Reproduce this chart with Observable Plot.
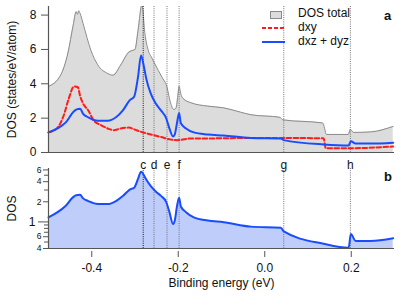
<!DOCTYPE html>
<html>
<head>
<meta charset="utf-8">
<script src="https://cdn.jsdelivr.net/npm/d3@7"></script>
<script src="https://cdn.jsdelivr.net/npm/@observablehq/plot@0.6"></script>
<style>
  body { margin: 0; background: #fff; }
  #wrap { position: relative; width: 407px; height: 296px; font-family: "Liberation Sans", Arial, sans-serif; color: #111; }
  #wrap svg.plot { position: absolute; left: 0; overflow: visible; }
  .lab { position: absolute; font-size: 11px; line-height: 1; white-space: nowrap; }
</style>
</head>
<body>
<div id="wrap"></div>
<script>
// ---- data ----
const totalE = [-0.50,-0.472,-0.455,-0.443,-0.436,-0.433,-0.430,-0.427,-0.420,-0.402,-0.386,-0.363,-0.351,-0.333,-0.314,-0.305,-0.300,-0.293,-0.284,-0.277,-0.270,-0.261,-0.254,-0.238,-0.226,-0.219,-0.210,-0.205,-0.201,-0.198,-0.194,-0.189,-0.171,-0.132,-0.095,-0.056,-0.032,0.035,0.042,0.134,0.143,0.193,0.198,0.205,0.245,0.297];
const totalV = [3.85,4.5,5.8,7.4,8.2,8.05,8.25,8.1,7.5,5.95,5.1,4.6,4.5,5.1,5.85,5.95,6.0,7.1,8.6,6.9,6.0,5.5,5.15,4.4,3.8,3.0,2.5,2.6,3.3,3.85,3.4,3.15,2.9,2.7,2.6,2.35,2.2,2.05,1.9,1.72,1.05,1.05,1.35,1.17,1.2,1.52];

const dxyE = [-0.50,-0.479,-0.465,-0.453,-0.441,-0.432,-0.427,-0.420,-0.408,-0.395,-0.379,-0.363,-0.349,-0.333,-0.314,-0.302,-0.286,-0.263,-0.240,-0.217,-0.201,-0.171,-0.132,-0.032,0.136,0.141,0.200,0.297];
const dxyV = [1.17,1.45,2.15,3.15,3.85,3.8,3.3,2.85,2.45,1.85,1.6,1.4,1.3,1.4,1.45,1.35,1.2,1.05,0.9,0.75,0.72,0.82,0.82,0.85,0.83,0.25,0.25,0.35];

const dxzE = [-0.50,-0.479,-0.460,-0.443,-0.436,-0.427,-0.420,-0.408,-0.386,-0.363,-0.344,-0.328,-0.312,-0.302,-0.293,-0.286,-0.279,-0.274,-0.263,-0.252,-0.240,-0.228,-0.221,-0.212,-0.208,-0.203,-0.198,-0.194,-0.182,-0.164,-0.132,-0.095,-0.032,0.037,0.044,0.136,0.194,0.199,0.210,0.245,0.297];
const dxzV = [1.17,1.4,1.75,2.35,2.5,2.55,2.25,2.05,1.85,1.85,2.05,2.45,3.05,3.25,4.4,5.65,4.95,4.3,3.4,2.85,2.45,2.0,1.45,0.93,1.05,1.7,2.3,1.7,1.4,1.17,1.05,0.99,0.85,0.82,0.72,0.47,0.41,0.66,0.52,0.52,0.57];

const markerE = [-0.281,-0.256,-0.226,-0.198,0.044,0.198];
const markerLabels = ["c","d","e","f","g","h"];

const xTicks = [-0.4,-0.2,0.0,0.2];
const yTopTicks = [0,2,4,6,8];
const yLogLabeled = [0.4,0.6,2,4,6];
const yLogMajor = [1];
const yLogMinor = [0.5,0.7,0.8,0.9,3,5];

const seriesNames = ["DOS total","dxy","dxz + dyz"];

// ---- tables ----
const total = totalE.map((e,i)=>({e, v: totalV[i]}));
const dxy = dxyE.map((e,i)=>({e, v: dxyV[i]}));
const dxz = dxzE.map((e,i)=>({e, v: dxzV[i]}));
const markers = markerE.map((e,i)=>({e, label: markerLabels[i]}));

const RED = "#ff1c1c", BLUE = "#1a4cff", AXIS = "#555";
const CURVE = "monotone-x";
const wrap = document.getElementById("wrap");

// ---- top panel ----
const p1 = Plot.plot({
  width: 407, height: 160,
  marginLeft: 48, marginRight: 13, marginTop: 6, marginBottom: 8,
  style: {fontFamily: "Liberation Sans, Arial, sans-serif", fontSize: "11px", color: "#111", background: "transparent"},
  x: {domain: [-0.5, 0.3]},
  y: {domain: [0, 8.5]},
  marks: [
    Plot.areaY(total, {x: "e", y: "v", fill: "#dcdcdc", curve: CURVE, clip: true}),
    Plot.lineY(total, {x: "e", y: "v", stroke: "#8a8a8a", strokeWidth: 1, curve: CURVE, clip: true}),
    Plot.ruleX(markers, {x: "e", stroke: d => d.label === "c" ? "#000" : "#666", strokeDasharray: "1,1.2", strokeWidth: 0.9}),
    Plot.lineY(dxy, {x: "e", y: "v", stroke: RED, strokeWidth: 2, strokeDasharray: "4.5,2.5", curve: CURVE}),
    Plot.lineY(dxz, {x: "e", y: "v", stroke: BLUE, strokeWidth: 2, curve: CURVE}),
    Plot.ruleY([0], {stroke: AXIS, strokeWidth: 1.2}),
    Plot.ruleX([-0.5], {stroke: AXIS, strokeWidth: 1.2}),
    Plot.axisY({ticks: yTopTicks, tickSize: 7, tickPadding: 5, fontSize: 12, stroke: AXIS,
      label: "DOS (states/eV/atom)", labelAnchor: "center", labelArrow: "none", labelOffset: 41}),
    Plot.axisX({ticks: [], label: null})
  ]
});
p1.classList.add("plot");
p1.style.top = "0px";
wrap.appendChild(p1);

// ---- bottom panel ----
const p2 = Plot.plot({
  width: 407, height: 136,
  marginLeft: 48, marginRight: 13, marginTop: 8, marginBottom: 48,
  style: {fontFamily: "Liberation Sans, Arial, sans-serif", fontSize: "11px", color: "#111", background: "transparent"},
  x: {domain: [-0.5, 0.3]},
  y: {type: "log", domain: [0.4, 6.3]},
  marks: [
    Plot.areaY(dxz, {x: "e", y1: 0.4, y2: "v", fill: "#bfcdfb", curve: CURVE}),
    Plot.ruleX(markers, {x: "e", stroke: d => d.label === "c" ? "#000" : "#666", strokeDasharray: "1,1.2", strokeWidth: 0.9}),
    Plot.lineY(dxz, {x: "e", y: "v", stroke: BLUE, strokeWidth: 2, curve: CURVE}),
    Plot.text(markers, {x: "e", text: "label", frameAnchor: "top", dy: -8, fontSize: 12, fill: "#111"}),
    Plot.ruleY([0.4], {stroke: AXIS, strokeWidth: 1.2}),
    Plot.ruleX([-0.5], {stroke: AXIS, strokeWidth: 1.2}),
    Plot.axisY({ticks: yLogMinor, tickSize: 4, tickFormat: () => "", stroke: AXIS, label: null}),
    Plot.axisY({ticks: yLogLabeled, tickSize: 5, tickPadding: 2, fontSize: 8.5, stroke: AXIS,
      tickFormat: d => d < 1 ? String(Math.round(d * 10)) : String(d), label: null}),
    Plot.axisY({ticks: yLogMajor, tickSize: 10, tickPadding: 3, fontSize: 12, stroke: AXIS,
      tickFormat: d => String(d), label: "DOS", labelAnchor: "center", labelArrow: "none", labelOffset: 41}),
    Plot.axisX({ticks: xTicks, tickSize: 6, dy: 3, tickPadding: 6, fontSize: 12, stroke: AXIS,
      tickFormat: d => d.toFixed(1), label: "Binding energy (eV)", labelAnchor: "center", labelArrow: "none", labelOffset: 38})
  ]
});
p2.classList.add("plot");
p2.style.top = "160px";
wrap.appendChild(p2);

// ---- legend & panel letters ----
function addLabel(text, x, y, extra) {
  const d = document.createElement("div");
  d.className = "lab";
  d.textContent = text;
  d.style.left = x + "px";
  d.style.top = y + "px";
  if (extra) Object.assign(d.style, extra);
  wrap.appendChild(d);
}
const sw = document.createElementNS("http://www.w3.org/2000/svg", "svg");
sw.setAttribute("width", 30); sw.setAttribute("height", 40);
sw.style.position = "absolute"; sw.style.left = "260px"; sw.style.top = "8px";
sw.innerHTML =
  `<rect x="10.5" y="3.5" width="11" height="7" fill="#dcdcdc" stroke="#8a8a8a"/>` +
  `<line x1="2" x2="25" y1="20" y2="20" stroke="${RED}" stroke-width="2" stroke-dasharray="4,2"/>` +
  `<line x1="2" x2="25" y1="34" y2="34" stroke="${BLUE}" stroke-width="2"/>`;
wrap.appendChild(sw);
addLabel(seriesNames[0], 298, 7, {fontSize: "12px"});
addLabel(seriesNames[1], 298, 21, {fontSize: "12px"});
addLabel(seriesNames[2], 298, 35, {fontSize: "12px"});
addLabel("a", 384, 9, {fontWeight: "bold", fontSize: "13px"});
addLabel("b", 384, 170, {fontWeight: "bold", fontSize: "13px"});
</script>
</body>
</html>
